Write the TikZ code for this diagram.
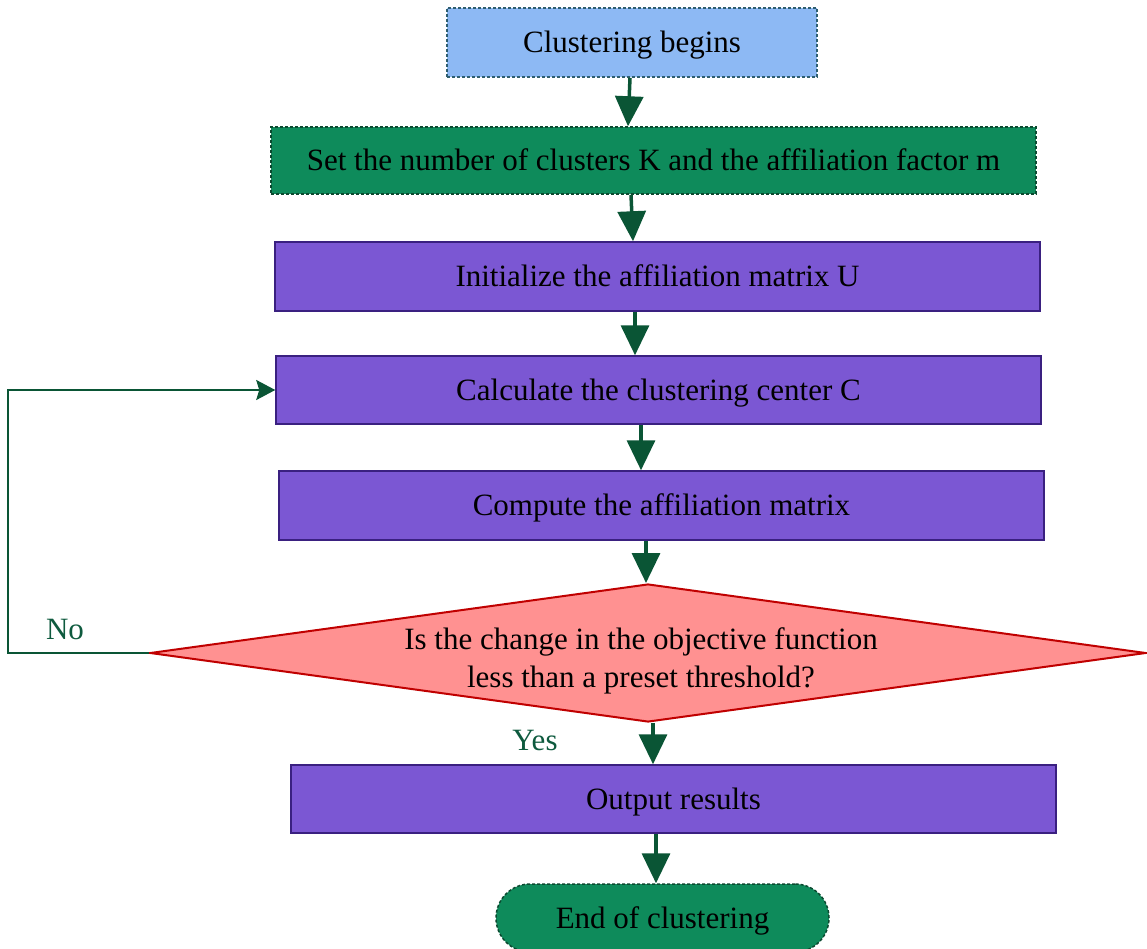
\documentclass[tikz,border=0pt]{standalone}
\usepackage{fontspec}
\setmainfont{Liberation Serif}
\usetikzlibrary{shapes.geometric,arrows.meta}
\definecolor{cblue}{HTML}{8DB9F4}
\definecolor{cblueb}{HTML}{2E5E70}
\definecolor{cgreen}{HTML}{0E8B5B}
\definecolor{cgreenb}{HTML}{0B4A30}
\definecolor{cpurple}{HTML}{7B57D3}
\definecolor{cpurpleb}{HTML}{3A2080}
\definecolor{cpink}{HTML}{FF9191}
\definecolor{cred}{HTML}{C00000}
\definecolor{carrow}{HTML}{0A5535}
\definecolor{clab}{HTML}{0E5A3E}
\tikzset{
  x=1pt, y=1pt,
  every node/.style={font=\fontsize{31}{38}\selectfont, text=black},
  boxtext/.style={text height=24pt, text depth=4pt},
  startbox/.style={boxtext, draw=cblueb, fill=cblue, dash pattern=on 3pt off 2pt, line width=1.5pt, minimum width=370pt, minimum height=69pt, inner sep=0pt},
  setbox/.style={boxtext, draw=cgreenb, fill=cgreen, dash pattern=on 3pt off 2pt, line width=1.5pt, minimum width=765pt, minimum height=67pt, inner sep=0pt},
  procbox/.style={boxtext, draw=cpurpleb, fill=cpurple, line width=1.5pt, minimum width=765pt, minimum height=68pt, inner sep=0pt},
  endbox/.style={boxtext, draw=cgreenb, fill=cgreen, dash pattern=on 3pt off 2pt, line width=1.5pt, minimum width=333pt, minimum height=68pt, rounded corners=34pt, inner sep=0pt},
  decbox/.style={draw=cred, fill=cpink, line width=2pt, shape=diamond, minimum width=996pt, minimum height=138pt, inner sep=0pt},
  flowarrow/.style={draw=carrow, line width=3.5pt, -{Triangle[width=28pt,length=30pt]}},
  looparrow/.style={draw=carrow, line width=1.8pt, -{Stealth[width=20pt,length=19pt,inset=3pt]}},
  lab/.style={text=clab}
}
\begin{document}
\begin{tikzpicture}
\useasboundingbox (0,0) rectangle (1147,-949);
\node[startbox] (start) at (632,-42.5) {Clustering begins};
\node[setbox] (set) at (653.5,-160.5) {Set the number of clusters K and the affiliation factor m};
\node[procbox, minimum height=69pt] (init) at (657.5,-276.5) {Initialize the affiliation matrix U};
\node[procbox] (calc) at (658.5,-390) {Calculate the clustering center C};
\node[procbox, minimum height=69pt] (comp) at (661.5,-505.5) {Compute the affiliation matrix};
\node[decbox] (dec) at (648,-653) {};
\node[align=center] (qtext) at (641,-661) {Is the change in the objective function\\less than a preset threshold?};
\node[procbox] (out) at (673.5,-799) {Output results};
\node[endbox] (end) at (662.5,-918) {End of clustering};
\coordinate (lc) at (8,-653);
\node[lab] (no) at (65,-629) {No};
\node[lab] (yes) at (535,-740) {Yes};

\draw[flowarrow] ([xshift=-2pt]start.south) -- ([xshift=-25.5pt]set.north);
\draw[flowarrow] ([xshift=-22.5pt]set.south) -- ([xshift=-24.5pt]init.north);
\draw[flowarrow] ([xshift=-22.5pt]init.south) -- ([xshift=-23.5pt]calc.north);
\draw[flowarrow] ([xshift=-17.5pt]calc.south) -- ([xshift=-20.5pt]comp.north);
\draw[flowarrow] ([xshift=-15.5pt]comp.south) -- ([xshift=-2pt]dec.north);
\draw[flowarrow] ([xshift=5pt]dec.south) -- ([xshift=-20.5pt]out.north);
\draw[flowarrow] ([xshift=-17.5pt]out.south) -- ([xshift=-6.5pt]end.north);
\draw[looparrow] (dec.west) -- (lc) |- (calc.west);
\end{tikzpicture}
\end{document}
